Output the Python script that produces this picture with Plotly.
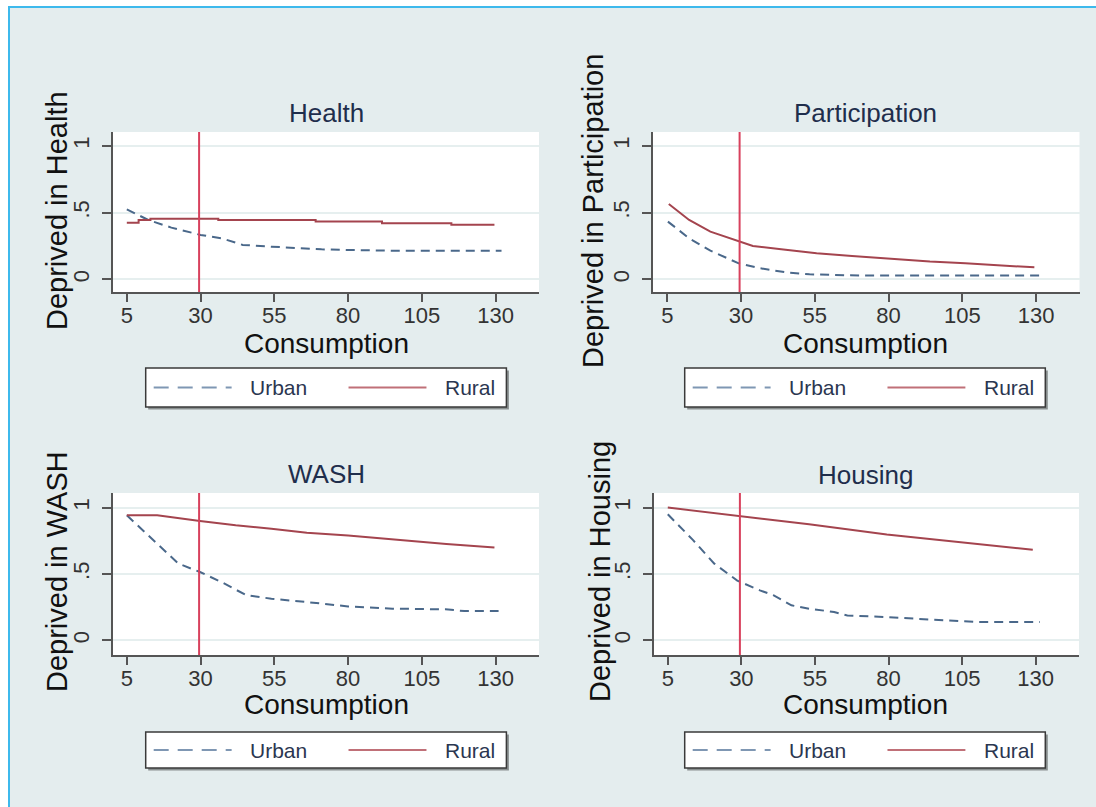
import plotly.graph_objects as go

# ---- data: share deprived by consumption level ----
titles = ["Health", "Participation", "WASH", "Housing"]
ylabels = ["Deprived in Health", "Deprived in Participation",
           "Deprived in WASH", "Deprived in Housing"]
x_ticks = [5, 30, 55, 80, 105, 130]
y_ticks = [0, 0.5, 1]
y_ticktext = ["0", ".5", "1"]
poverty_line = 29.5

health_urban_x = [5, 12.3, 20.1, 30, 37.1, 44.3, 54, 62.5, 71, 80, 95, 132]
health_urban_y = [0.525, 0.445, 0.388, 0.333, 0.308, 0.258, 0.245, 0.233, 0.225, 0.22, 0.215, 0.215]
health_rural_x = [5, 9, 13, 36, 69, 91.5, 115, 129.6]
health_rural_y = [0.425, 0.445, 0.455, 0.445, 0.433, 0.42, 0.41, 0.41]

part_urban_x = [5.2, 12.4, 19.6, 29.2, 36.4, 46, 53.2, 65.2, 80, 131.2]
part_urban_y = [0.433, 0.308, 0.215, 0.12, 0.083, 0.05, 0.038, 0.03, 0.028, 0.028]
part_rural_x = [5.5, 12.4, 19.6, 29.2, 34, 43.6, 55.6, 67.6, 79.6, 94, 106, 118, 129.4]
part_rural_y = [0.565, 0.445, 0.358, 0.283, 0.25, 0.225, 0.195, 0.175, 0.155, 0.133, 0.12, 0.103, 0.09]

wash_urban_x = [5, 12.9, 22.5, 29.8, 37, 45.5, 54, 66, 80, 95, 113, 119.4, 131]
wash_urban_y = [0.942, 0.78, 0.578, 0.515, 0.44, 0.34, 0.314, 0.289, 0.256, 0.239, 0.234, 0.221, 0.221]
wash_rural_x = [5, 15.3, 29.8, 41.9, 54, 66, 80, 95, 113.3, 129.6]
wash_rural_y = [0.942, 0.942, 0.90, 0.867, 0.84, 0.81, 0.79, 0.76, 0.726, 0.70]

housing_urban_x = [5, 13.6, 20.8, 28.6, 36.3, 41, 47, 53, 61.5, 66, 79, 94, 110, 131.4]
housing_urban_y = [0.95, 0.755, 0.578, 0.45, 0.377, 0.339, 0.264, 0.239, 0.214, 0.188, 0.176, 0.156, 0.138, 0.138]
housing_rural_x = [5, 29.2, 53, 79.4, 104.5, 129]
housing_rural_y = [1.0, 0.935, 0.874, 0.797, 0.741, 0.683]

urban = [(health_urban_x, health_urban_y), (part_urban_x, part_urban_y),
         (wash_urban_x, wash_urban_y), (housing_urban_x, housing_urban_y)]
rural = [(health_rural_x, health_rural_y), (part_rural_x, part_rural_y),
         (wash_rural_x, wash_rural_y), (housing_rural_x, housing_rural_y)]
rural_shape = ["hv", "linear", "linear", "linear"]

# ---- layout geometry (pixels) ----
W, H = 1096, 807
BG = "#E4EDEE"
URBAN_C = "#4A688A"
RURAL_C = "#A4444E"
VLINE_C = "#D8415D"
AXIS_C = "#555555"
FONT = "Liberation Sans, Arial, sans-serif"

# plot areas: (left, right, top, bottom)
panels = [
    (112.5, 539.0, 132, 292),
    (653.0, 1079.5, 132, 292),
    (112.5, 539.0, 493, 655),
    (653.5, 1079.0, 493, 655),
]
y_ranges = [[-0.095, 1.105], [-0.095, 1.105], [-0.11, 1.11], [-0.11, 1.11]]
title_pos = [(326.8, 113), (865.5, 113), (326.8, 474), (865.5, 475)]
xtitle_pos = [(326.8, 343), (865.5, 343), (326.8, 704), (865.5, 704)]
ytitle_pos = [(57, 211), (593, 211), (57, 572), (600, 572)]
legend_box = [(145.7, 506.4, 368, 407), (684.7, 1045.3, 368, 407),
              (145.7, 506.4, 732, 768), (684.7, 1045.3, 732, 768)]


def px(x):
    return x / W


def py(y):
    return 1 - y / H


fig = go.Figure()
layout = dict(
    width=W, height=H, margin=dict(l=0, r=0, t=0, b=0),
    paper_bgcolor=BG, plot_bgcolor="white", showlegend=False,
    font=dict(family=FONT, color="#333333"),
)
shapes = []
annotations = []

for i in range(4):
    n = "" if i == 0 else str(i + 1)
    xa, ya = "x" + n, "y" + n
    left, right, top, bottom = panels[i]

    fig.add_trace(go.Scatter(
        x=urban[i][0], y=urban[i][1], mode="lines", name="Urban",
        line=dict(color=URBAN_C, width=2, dash="9px,6px"),
        xaxis=xa, yaxis=ya))
    fig.add_trace(go.Scatter(
        x=rural[i][0], y=rural[i][1], mode="lines", name="Rural",
        line=dict(color=RURAL_C, width=2, shape=rural_shape[i]),
        xaxis=xa, yaxis=ya))

    layout["xaxis" + n] = dict(
        domain=[px(left), px(right)], anchor=ya, range=[0.15, 144.7],
        tickvals=x_ticks, ticks="outside", ticklen=8, tickwidth=1.5,
        tickcolor=AXIS_C, showline=True, linecolor=AXIS_C, linewidth=2,
        showgrid=False, zeroline=False, ticklabelstandoff=-5,
        tickfont=dict(size=22, color="#333333", family=FONT),
    )
    layout["yaxis" + n] = dict(
        domain=[py(bottom), py(top)], anchor=xa, range=y_ranges[i],
        tickvals=y_ticks, ticktext=y_ticktext, tickangle=-90,
        ticks="outside", ticklen=9, tickwidth=1.5, tickcolor=AXIS_C,
        showline=True, linecolor=AXIS_C, linewidth=2,
        showgrid=True, gridcolor="#E6EFEF", gridwidth=2, zeroline=False,
        ticklabelstandoff=4,
        tickfont=dict(size=22, color="#333333", family=FONT),
    )

    # poverty line marker
    shapes.append(dict(type="line", xref=xa, yref=ya + " domain",
                       x0=poverty_line, x1=poverty_line, y0=0, y1=1,
                       line=dict(color=VLINE_C, width=2), layer="above"))

    # panel title and axis titles
    tx, ty = title_pos[i]
    annotations.append(dict(text=titles[i], x=px(tx), y=py(ty), xref="paper",
                            yref="paper", showarrow=False, xanchor="center",
                            yanchor="middle",
                            font=dict(size=26, color="#1F2E4C", family=FONT)))
    cx, cy = xtitle_pos[i]
    annotations.append(dict(text="Consumption", x=px(cx), y=py(cy), xref="paper",
                            yref="paper", showarrow=False, xanchor="center",
                            yanchor="middle",
                            font=dict(size=28, color="#111111", family=FONT)))
    lx, ly = ytitle_pos[i]
    annotations.append(dict(text=ylabels[i], x=px(lx), y=py(ly), xref="paper",
                            yref="paper", showarrow=False, xanchor="center",
                            yanchor="middle", textangle=-90,
                            font=dict(size=29, color="#111111", family=FONT)))

    # legend box with drop shadow
    bl, br, bt, bb = legend_box[i]
    shapes.append(dict(type="rect", xref="paper", yref="paper",
                       x0=px(bl + 2.5), x1=px(br + 2.5), y0=py(bb + 2.5), y1=py(bt + 2.5),
                       fillcolor="#8A9090", line=dict(width=0), layer="above"))
    shapes.append(dict(type="rect", xref="paper", yref="paper",
                       x0=px(bl), x1=px(br), y0=py(bb), y1=py(bt),
                       fillcolor="white", line=dict(color="#3A3A3A", width=1.5),
                       layer="above"))
    mid = (bt + bb) / 2
    scale = (br - bl) / 361.0
    shapes.append(dict(type="line", xref="paper", yref="paper",
                       x0=px(bl + 8 * scale), x1=px(bl + 86 * scale), y0=py(mid), y1=py(mid),
                       line=dict(color="#7F97B3", width=2, dash="15px,9px"),
                       layer="above"))
    shapes.append(dict(type="line", xref="paper", yref="paper",
                       x0=px(bl + 203 * scale), x1=px(bl + 281 * scale), y0=py(mid), y1=py(mid),
                       line=dict(color="#C07078", width=2), layer="above"))
    annotations.append(dict(text="Urban", x=px(bl + 133 * scale), y=py(mid),
                            xref="paper", yref="paper", showarrow=False,
                            xanchor="center", yanchor="middle",
                            font=dict(size=21, color="#2B3650", family=FONT)))
    annotations.append(dict(text="Rural", x=px(bl + 325 * scale), y=py(mid),
                            xref="paper", yref="paper", showarrow=False,
                            xanchor="center", yanchor="middle",
                            font=dict(size=21, color="#2B3650", family=FONT)))

# white page margin and blue frame lines at top and left
shapes.append(dict(type="rect", xref="paper", yref="paper", x0=0, x1=1,
                   y0=py(6), y1=1, fillcolor="white", line=dict(width=0), layer="below"))
shapes.append(dict(type="rect", xref="paper", yref="paper", x0=0, x1=px(8),
                   y0=0, y1=1, fillcolor="white", line=dict(width=0), layer="below"))
shapes.append(dict(type="line", xref="paper", yref="paper", x0=px(8), x1=1,
                   y0=py(7), y1=py(7), line=dict(color="#3DB9EC", width=2), layer="below"))
shapes.append(dict(type="line", xref="paper", yref="paper", x0=px(9), x1=px(9),
                   y0=0, y1=py(6), line=dict(color="#3DB9EC", width=2), layer="below"))

layout["shapes"] = shapes
layout["annotations"] = annotations
fig.update_layout(**layout)

fig.write_html("out.html")
